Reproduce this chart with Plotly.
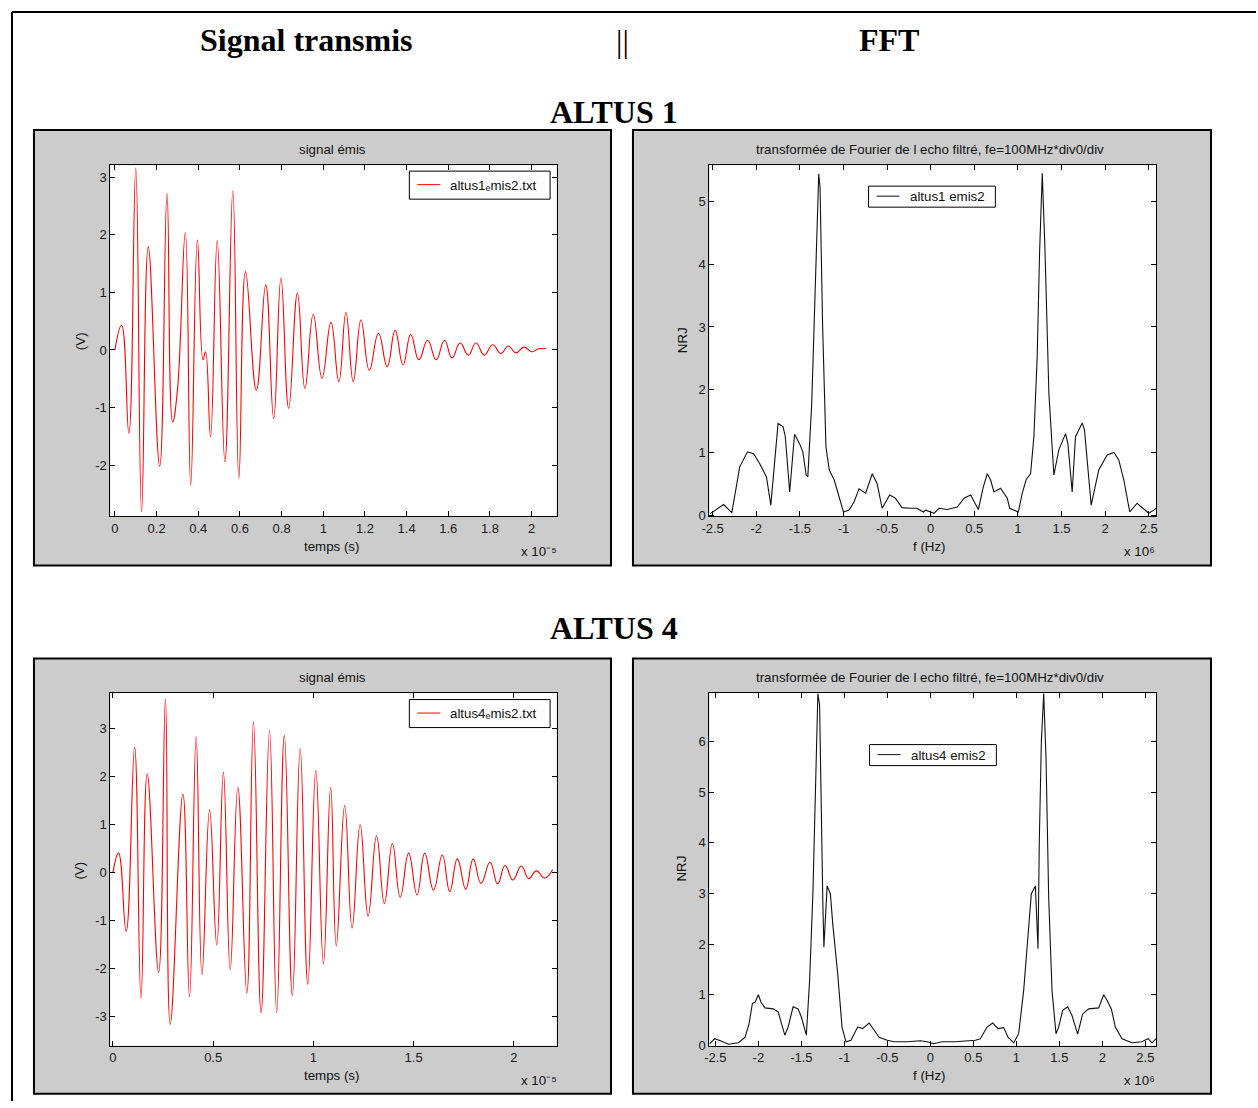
import plotly.graph_objects as go

W, H = 1258, 1108

# ---- ALTUS 1 : emitted signal (time in 1e-5 s, amplitude in V), extrema of the trace
t_altus1 = [0, 0.032, 0.067, 0.100, 0.128, 0.160, 0.215, 0.250, 0.277, 0.300, 0.338, 0.364,
            0.396, 0.423, 0.435, 0.459, 0.491, 0.528, 0.566, 0.595, 0.627, 0.679, 0.724, 0.762,
            0.797, 0.834, 0.876, 0.912, 0.952, 0.994, 1.037, 1.075, 1.109, 1.144, 1.181, 1.221,
            1.265, 1.307, 1.345, 1.383, 1.420, 1.459, 1.501, 1.542, 1.582, 1.618, 1.657, 1.696,
            1.733, 1.773, 1.813, 1.852, 1.889, 1.924, 1.964, 2.000, 2.035, 2.070]
v_altus1 = [0, 0.43, -1.45, 3.16, -2.81, 1.79, -2.02, 2.72, -1.25, -0.70, 2.04, -2.35,
            1.91, -0.17, -0.03, -1.51, 1.90, -1.94, 2.77, -2.23, 1.36, -0.70, 1.13, -1.19,
            1.25, -1.01, 0.99, -0.67, 0.62, -0.49, 0.48, -0.55, 0.65, -0.55, 0.52, -0.35,
            0.29, -0.29, 0.34, -0.26, 0.27, -0.17, 0.17, -0.17, 0.17, -0.14, 0.12, -0.09,
            0.12, -0.09, 0.09, -0.06, 0.07, -0.05, 0.05, -0.03, 0.02, 0.02]

# ---- ALTUS 4 : emitted signal
t_altus4 = [0, 0.028, 0.066, 0.108, 0.140, 0.171, 0.228, 0.262, 0.286, 0.349, 0.382, 0.415,
            0.444, 0.482, 0.518, 0.551, 0.585, 0.623, 0.668, 0.701, 0.739, 0.781, 0.817, 0.855,
            0.895, 0.934, 0.972, 1.012, 1.050, 1.086, 1.114, 1.156, 1.193, 1.233, 1.273, 1.315,
            1.354, 1.394, 1.433, 1.475, 1.517, 1.555, 1.599, 1.643, 1.680, 1.718, 1.760, 1.797,
            1.836, 1.881, 1.919, 1.956, 1.995, 2.037, 2.074, 2.112, 2.154, 2.193]
v_altus4 = [0, 0.40, -1.23, 2.60, -2.62, 2.05, -2.08, 3.61, -3.16, 1.63, -2.59, 2.83,
            -2.13, 1.30, -1.51, 2.08, -2.03, 1.77, -2.52, 3.13, -2.92, 2.95, -2.92, 2.85,
            -2.57, 2.57, -2.33, 2.12, -1.90, 1.77, -1.53, 1.39, -1.16, 0.99, -0.91, 0.76,
            -0.65, 0.60, -0.52, 0.40, -0.47, 0.40, -0.37, 0.36, -0.40, 0.28, -0.35, 0.28,
            -0.23, 0.21, -0.24, 0.14, -0.16, 0.13, -0.13, 0.03, -0.12, 0.06]

# ---- ALTUS 1 : spectrum (frequency in 1e6 Hz, energy)
f_altus1 = [-2.53, -2.375, -2.28, -2.19, -2.10, -2.03, -1.96, -1.883, -1.833, -1.75, -1.693,
            -1.667, -1.617, -1.561, -1.504, -1.466, -1.428, -1.409, -1.364, -1.326, -1.284,
            -1.269, -1.239, -1.201, -1.163, -1.106, -1.049, -1.0, -0.936, -0.879, -0.822,
            -0.746, -0.67, -0.614, -0.557, -0.47, -0.405, -0.33, -0.235, -0.159, -0.083,
            -0.057, 0.0, 0.038, 0.095, 0.19, 0.248, 0.305, 0.382, 0.458, 0.508, 0.546, 0.603,
            0.649, 0.687, 0.725, 0.80, 0.878, 0.905, 1.004, 1.05, 1.095, 1.145, 1.183, 1.221,
            1.248, 1.279, 1.309, 1.355, 1.412, 1.469, 1.546, 1.573, 1.622, 1.66, 1.737, 1.763,
            1.84, 1.927, 2.023, 2.10, 2.156, 2.214, 2.282, 2.366, 2.416, 2.50, 2.557, 2.584]
e_altus1 = [0.02, 0.17, 0.04, 0.77, 1.01, 0.98, 0.82, 0.61, 0.16, 1.46, 1.41,
            1.25, 0.37, 1.29, 1.14, 1.01, 0.64, 0.61, 1.78, 3.53, 5.44,
            5.23, 3.00, 1.09, 0.72, 0.56, 0.29, 0.05, 0.08, 0.21, 0.42,
            0.35, 0.66, 0.50, 0.11, 0.32, 0.27, 0.12, 0.11, 0.11, 0.05,
            0.08, 0.05, 0.03, 0.11, 0.09, 0.11, 0.13, 0.27, 0.32, 0.19, 0.09, 0.45,
            0.66, 0.56, 0.37, 0.43, 0.27, 0.11, 0.05, 0.35, 0.57, 0.66, 1.25, 2.53,
            4.18, 5.45, 4.28, 1.94, 0.64, 1.04, 1.30, 1.14, 0.37, 1.25, 1.47, 1.36,
            0.16, 0.72, 0.96, 1.00, 0.88, 0.56, 0.05, 0.19, 0.13, 0.03, 0.08, 0.11]

# ---- ALTUS 4 : spectrum
f_altus4 = [-2.569, -2.508, -2.442, -2.346, -2.231, -2.154, -2.108, -2.069, -2.038, -2.0,
            -1.969, -1.923, -1.827, -1.769, -1.731, -1.692, -1.654, -1.596, -1.538, -1.50,
            -1.442, -1.404, -1.365, -1.327, -1.308, -1.288, -1.269, -1.25, -1.238, -1.223,
            -1.20, -1.162, -1.135, -1.077, -1.027, -0.981, -0.923, -0.846, -0.788, -0.712,
            -0.654, -0.596, -0.50, -0.423, -0.269, -0.115, -0.038, 0.039, 0.136, 0.29, 0.446,
            0.523, 0.581, 0.659, 0.725, 0.787, 0.853, 0.903, 0.969, 1.027, 1.085, 1.124,
            1.174, 1.221, 1.24, 1.252, 1.267, 1.291, 1.318, 1.345, 1.376, 1.415, 1.461,
            1.492, 1.539, 1.597, 1.647, 1.713, 1.771, 1.841, 1.957, 2.016, 2.054, 2.105,
            2.151, 2.229, 2.345, 2.461, 2.531, 2.578, 2.624]
e_altus4 = [0.03, 0.13, 0.09, 0.02, 0.05, 0.16, 0.43, 0.83, 0.85, 1.00,
            0.85, 0.74, 0.72, 0.66, 0.43, 0.20, 0.36, 0.76, 0.72, 0.56,
            0.20, 1.28, 3.05, 6.01, 6.95, 6.73, 4.37, 2.79, 1.94, 2.53,
            3.15, 2.99, 2.40, 1.41, 0.36, 0.07, 0.10, 0.36, 0.33, 0.44,
            0.30, 0.16, 0.10, 0.07, 0.07, 0.09, 0.07, 0.03, 0.07, 0.07, 0.09,
            0.10, 0.13, 0.36, 0.44, 0.33, 0.35, 0.16, 0.05, 0.23, 1.08, 1.87,
            2.99, 3.15, 2.53, 1.91, 4.04, 6.01, 6.95, 5.68, 2.92, 1.08, 0.23,
            0.36, 0.69, 0.76, 0.59, 0.22, 0.62, 0.72, 0.74, 1.00, 0.89, 0.72,
            0.36, 0.13, 0.05, 0.07, 0.13, 0.05, 0.13]

# ---- tick values
time_ticks_1 = [0, 0.2, 0.4, 0.6, 0.8, 1, 1.2, 1.4, 1.6, 1.8, 2]
time_ticks_4 = [0, 0.5, 1, 1.5, 2]
freq_ticks = [-2.5, -2, -1.5, -1, -0.5, 0, 0.5, 1, 1.5, 2, 2.5]
volt_ticks_1 = [-2, -1, 0, 1, 2, 3]
volt_ticks_4 = [-3, -2, -1, 0, 1, 2, 3]
nrj_ticks_1 = [0, 1, 2, 3, 4, 5]
nrj_ticks_4 = [0, 1, 2, 3, 4, 5, 6]

# ---- legend labels and axis exponents
legend_labels = ["altus1\u2091mis2.txt", "altus1 emis2",
                 "altus4\u2091mis2.txt", "altus4 emis2"]
time_exponent = "x 10\u207b\u2075"
freq_exponent = "x 10\u2076"

# page-layout grid (pixel units of the page sheet) and its mapping to paper coords
X_SHIFT, X_SCALE, Y_SCALE = 8.0, 0.9937, 0.9929


def fx(px):
    return ((px - X_SHIFT) / X_SCALE) / W


def fy(py):
    return 1 - (py / Y_SCALE) / H


def labels(vals):
    # plain hyphen-minus, as on the original axes
    return [f"{v:g}" for v in vals]


SANS = "Liberation Sans, Arial, sans-serif"
SERIF = "Liberation Serif, Times New Roman, serif"
SMALL = 13.3
BIG = 32

# plot-area boxes: (left, top, right, bottom)
boxes = {
    "tl": (110.5, 165, 557.5, 516),
    "tr": (710.5, 165, 1158, 516),
    "bl": (110.5, 692, 557.5, 1045),
    "br": (710.5, 692, 1158, 1045),
}
panels = [(34, 130, 612, 565), (634, 130, 1213, 565),
          (34, 658, 612, 1093), (634, 658, 1213, 1093)]
# legend boxes: (left, top, right, bottom, line colour)
legend_boxes = [(410, 171, 551, 199, "#ff0000"), (870, 186, 997, 207, "#111111"),
                (410, 699, 551, 727, "#ff0000"), (871, 744, 998, 765, "#111111")]

fig = go.Figure()

fig.add_trace(go.Scatter(x=t_altus1, y=v_altus1, mode="lines", name=legend_labels[0],
                         line=dict(color="#ff0000", width=1.1, shape="spline", smoothing=1.3),
                         xaxis="x", yaxis="y"))
fig.add_trace(go.Scatter(x=f_altus1, y=e_altus1, mode="lines", name=legend_labels[1],
                         line=dict(color="#111111", width=1.1),
                         xaxis="x2", yaxis="y2"))
fig.add_trace(go.Scatter(x=t_altus4, y=v_altus4, mode="lines", name=legend_labels[2],
                         line=dict(color="#ff0000", width=1.1, shape="spline", smoothing=1.3),
                         xaxis="x3", yaxis="y3"))
fig.add_trace(go.Scatter(x=f_altus4, y=e_altus4, mode="lines", name=legend_labels[3],
                         line=dict(color="#111111", width=1.1),
                         xaxis="x4", yaxis="y4"))

axis_style = dict(showline=True, linecolor="black", linewidth=1, mirror="allticks",
                  ticks="inside", ticklen=5, tickcolor="black", showgrid=False,
                  zeroline=False, tickfont=dict(family=SANS, size=13, color="#1a1a1a"))


def xdom(key):
    l, t, r, b = boxes[key]
    return [fx(l), fx(r)]


def ydom(key):
    l, t, r, b = boxes[key]
    return [fy(b), fy(t)]


layout_axes = dict(
    xaxis=dict(domain=xdom("tl"), anchor="y", range=[-0.022, 2.12], tickvals=time_ticks_1,
               ticktext=labels(time_ticks_1), **axis_style),
    yaxis=dict(domain=ydom("tl"), anchor="x", range=[-2.89, 3.21], tickvals=volt_ticks_1,
               ticktext=labels(volt_ticks_1), **axis_style),
    xaxis2=dict(domain=xdom("tr"), anchor="y2", range=[-2.538, 2.584], tickvals=freq_ticks,
                ticktext=labels(freq_ticks), **axis_style),
    yaxis2=dict(domain=ydom("tr"), anchor="x2", range=[-0.02, 5.58], tickvals=nrj_ticks_1,
                ticktext=labels(nrj_ticks_1), **axis_style),
    xaxis3=dict(domain=xdom("bl"), anchor="y3", range=[-0.013, 2.213], tickvals=time_ticks_4,
                ticktext=labels(time_ticks_4), **axis_style),
    yaxis3=dict(domain=ydom("bl"), anchor="x3", range=[-3.61, 3.74], tickvals=volt_ticks_4,
                ticktext=labels(volt_ticks_4), **axis_style),
    xaxis4=dict(domain=xdom("br"), anchor="y4", range=[-2.57, 2.625], tickvals=freq_ticks,
                ticktext=labels(freq_ticks), **axis_style),
    yaxis4=dict(domain=ydom("br"), anchor="x4", range=[-0.01, 6.97], tickvals=nrj_ticks_4,
                ticktext=labels(nrj_ticks_4), **axis_style),
)

shapes = []
# grey figure panels
for (l, t, r, b) in panels:
    shapes.append(dict(type="rect", xref="paper", yref="paper", x0=fx(l), x1=fx(r),
                       y0=fy(b), y1=fy(t), fillcolor="#cccccc",
                       line=dict(color="black", width=2), layer="below"))
# white plot areas
for key, (l, t, r, b) in boxes.items():
    shapes.append(dict(type="rect", xref="paper", yref="paper", x0=fx(l), x1=fx(r),
                       y0=fy(b), y1=fy(t), fillcolor="white", line=dict(width=0), layer="below"))
# page frame
shapes.append(dict(type="line", xref="paper", yref="paper", x0=fx(12), x1=1, y0=fy(12), y1=fy(12),
                   line=dict(color="black", width=2)))
shapes.append(dict(type="line", xref="paper", yref="paper", x0=fx(12), x1=fx(12), y0=0, y1=fy(12),
                   line=dict(color="black", width=2)))
# boxed legends (frame + line sample)
for (l, t, r, b, col) in legend_boxes:
    shapes.append(dict(type="rect", xref="paper", yref="paper", x0=fx(l), x1=fx(r),
                       y0=fy(b), y1=fy(t), fillcolor="white", line=dict(color="black", width=1)))
    ym = (t + b) / 2 - 0.5
    shapes.append(dict(type="line", xref="paper", yref="paper", x0=fx(l + 8), x1=fx(l + 31),
                       y0=fy(ym), y1=fy(ym), line=dict(color=col, width=1)))


def note(text, x, y, size=SMALL, family=SANS, color="#111111", angle=0, xanchor="center"):
    return dict(text=text, xref="paper", yref="paper", x=fx(x), y=fy(y), showarrow=False,
                xanchor=xanchor, yanchor="middle", textangle=angle,
                font=dict(family=family, size=size, color=color))


annotations = [
    note("<b>Signal transmis</b>", 306, 40, size=BIG, family=SERIF, color="black"),
    note("||", 624, 41, size=BIG, family=SERIF, color="black"),
    note("<b>FFT</b>", 890, 40, size=BIG, family=SERIF, color="black"),
    note("<b>ALTUS 1</b>", 615, 112, size=BIG, family=SERIF, color="black"),
    note("<b>ALTUS 4</b>", 615, 628, size=BIG, family=SERIF, color="black"),
    # top row
    note("signal émis", 333, 149),
    note("transformée de Fourier de l echo filtré, fe=100MHz*div0/div", 932, 149),
    note("temps (s)", 332, 546),
    note("(V)", 80, 341, angle=-90),
    note(time_exponent, 540, 551),
    note("f (Hz)", 931, 546),
    note("NRJ", 683, 340, angle=-90),
    note(freq_exponent, 1141, 551),
    # bottom row
    note("signal émis", 333, 677),
    note("transformée de Fourier de l echo filtré, fe=100MHz*div0/div", 932, 677),
    note("temps (s)", 332, 1075),
    note("(V)", 80, 870, angle=-90),
    note(time_exponent, 540, 1080),
    note("f (Hz)", 931, 1075),
    note("NRJ", 683, 868, angle=-90),
    note(freq_exponent, 1141, 1080),
]
# legend texts
for label, (l, t, r, b, col) in zip(legend_labels, legend_boxes):
    annotations.append(note(label, l + 39, (t + b) / 2, xanchor="left"))

fig.update_layout(
    width=W, height=H, margin=dict(l=0, r=0, t=0, b=0),
    paper_bgcolor="white", plot_bgcolor="white",
    showlegend=False,
    shapes=shapes, annotations=annotations,
    **layout_axes,
)

fig.write_html("out.html")
